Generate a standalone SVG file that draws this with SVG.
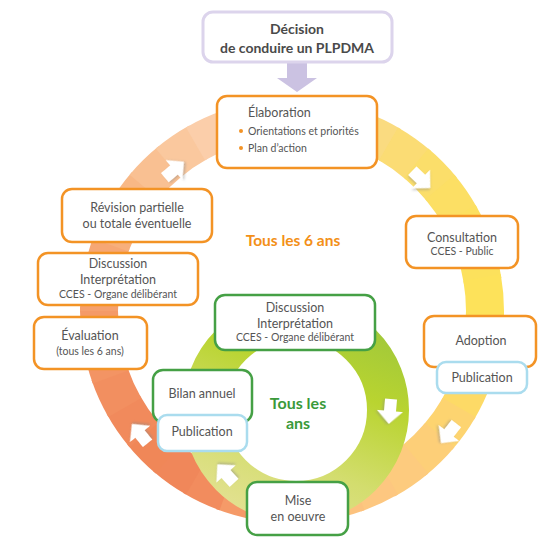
<svg xmlns="http://www.w3.org/2000/svg" width="555" height="540" viewBox="0 0 555 540">
<defs>
<style>
.seg{fill:none;stroke-width:38;stroke-dasharray:11 349}
.box{fill:#fff;stroke:#f39325;stroke-width:2.5}
.gbox{fill:#fff;stroke:#45a045;stroke-width:2.5}
.pbox{fill:#fff;stroke:#aadcee;stroke-width:2.5}
.t{font-family:Lato,"Liberation Sans",sans-serif;fill:#555;font-size:12.5px;text-anchor:middle}
.s{font-size:10.5px}
.st{font-family:Lato,"Liberation Sans",sans-serif;fill:#555;font-size:10.5px}
.h{font-family:Lato,"Liberation Sans",sans-serif;font-weight:bold;text-anchor:middle}
.arr{fill:#fff;filter:url(#sh)}
</style>
<filter id="sh" x="-50%" y="-50%" width="200%" height="200%">
<feDropShadow dx="1" dy="1.5" stdDeviation="1.2" flood-color="#888" flood-opacity="0.45"/>
</filter>
<linearGradient id="gg" gradientUnits="userSpaceOnUse" x1="345" y1="300" x2="255" y2="520">
<stop offset="0" stop-color="#9cc63c"/>
<stop offset="0.35" stop-color="#b9d430"/>
<stop offset="0.7" stop-color="#d3dd6e"/>
<stop offset="1" stop-color="#e3e192"/>
</linearGradient>
<polygon id="ar" points="-12,-6 0,-6 0,-13 13,0 0,13 0,6 -12,6"/>
</defs>

<g id="big-ring" transform="rotate(-90 292 311)">
<circle class="seg" cx="292" cy="311" r="193" pathLength="360" style="stroke:#f9d6a0;stroke-dashoffset:0"/>
<circle class="seg" cx="292" cy="311" r="193" pathLength="360" style="stroke:#fad890;stroke-dashoffset:-10"/>
<circle class="seg" cx="292" cy="311" r="193" pathLength="360" style="stroke:#fadb80;stroke-dashoffset:-20"/>
<circle class="seg" cx="292" cy="311" r="193" pathLength="360" style="stroke:#fbdc74;stroke-dashoffset:-30"/>
<circle class="seg" cx="292" cy="311" r="193" pathLength="360" style="stroke:#fbde6a;stroke-dashoffset:-40"/>
<circle class="seg" cx="292" cy="311" r="193" pathLength="360" style="stroke:#fcdf64;stroke-dashoffset:-50"/>
<circle class="seg" cx="292" cy="311" r="193" pathLength="360" style="stroke:#fce060;stroke-dashoffset:-60"/>
<circle class="seg" cx="292" cy="311" r="193" pathLength="360" style="stroke:#fce15c;stroke-dashoffset:-70"/>
<circle class="seg" cx="292" cy="311" r="193" pathLength="360" style="stroke:#fde25a;stroke-dashoffset:-80"/>
<circle class="seg" cx="292" cy="311" r="193" pathLength="360" style="stroke:#fde25a;stroke-dashoffset:-90"/>
<circle class="seg" cx="292" cy="311" r="193" pathLength="360" style="stroke:#fde05e;stroke-dashoffset:-100"/>
<circle class="seg" cx="292" cy="311" r="193" pathLength="360" style="stroke:#fdda66;stroke-dashoffset:-110"/>
<circle class="seg" cx="292" cy="311" r="193" pathLength="360" style="stroke:#fdd470;stroke-dashoffset:-120"/>
<circle class="seg" cx="292" cy="311" r="193" pathLength="360" style="stroke:#fdcf78;stroke-dashoffset:-130"/>
<circle class="seg" cx="292" cy="311" r="193" pathLength="360" style="stroke:#fdcb7e;stroke-dashoffset:-140"/>
<circle class="seg" cx="292" cy="311" r="193" pathLength="360" style="stroke:#fdc780;stroke-dashoffset:-150"/>
<circle class="seg" cx="292" cy="311" r="193" pathLength="360" style="stroke:#fcc27e;stroke-dashoffset:-160"/>
<circle class="seg" cx="292" cy="311" r="193" pathLength="360" style="stroke:#fbbb7a;stroke-dashoffset:-170"/>
<circle class="seg" cx="292" cy="311" r="193" pathLength="360" style="stroke:#f8ab72;stroke-dashoffset:-180"/>
<circle class="seg" cx="292" cy="311" r="193" pathLength="360" style="stroke:#f59a68;stroke-dashoffset:-190"/>
<circle class="seg" cx="292" cy="311" r="193" pathLength="360" style="stroke:#f28c5e;stroke-dashoffset:-200"/>
<circle class="seg" cx="292" cy="311" r="193" pathLength="360" style="stroke:#f0875a;stroke-dashoffset:-210"/>
<circle class="seg" cx="292" cy="311" r="193" pathLength="360" style="stroke:#f08758;stroke-dashoffset:-220"/>
<circle class="seg" cx="292" cy="311" r="193" pathLength="360" style="stroke:#f18a5c;stroke-dashoffset:-230"/>
<circle class="seg" cx="292" cy="311" r="193" pathLength="360" style="stroke:#f28f60;stroke-dashoffset:-240"/>
<circle class="seg" cx="292" cy="311" r="193" pathLength="360" style="stroke:#f39464;stroke-dashoffset:-250"/>
<circle class="seg" cx="292" cy="311" r="193" pathLength="360" style="stroke:#f49a68;stroke-dashoffset:-260"/>
<circle class="seg" cx="292" cy="311" r="193" pathLength="360" style="stroke:#f5a06e;stroke-dashoffset:-270"/>
<circle class="seg" cx="292" cy="311" r="193" pathLength="360" style="stroke:#f6a774;stroke-dashoffset:-280"/>
<circle class="seg" cx="292" cy="311" r="193" pathLength="360" style="stroke:#f7af7c;stroke-dashoffset:-290"/>
<circle class="seg" cx="292" cy="311" r="193" pathLength="360" style="stroke:#f8b886;stroke-dashoffset:-300"/>
<circle class="seg" cx="292" cy="311" r="193" pathLength="360" style="stroke:#f9c092;stroke-dashoffset:-310"/>
<circle class="seg" cx="292" cy="311" r="193" pathLength="360" style="stroke:#fac89e;stroke-dashoffset:-320"/>
<circle class="seg" cx="292" cy="311" r="193" pathLength="360" style="stroke:#fbceaa;stroke-dashoffset:-330"/>
<circle class="seg" cx="292" cy="311" r="193" pathLength="360" style="stroke:#fbd2ae;stroke-dashoffset:-340"/>
<circle class="seg" cx="292" cy="311" r="193" pathLength="360" style="stroke:#fad4a8;stroke-dashoffset:-350"/>
</g>

<g id="green-ring">
<circle cx="296" cy="410" r="92" fill="none" stroke="url(#gg)" stroke-width="42"/>
</g>

<g id="connectors">
<path d="M287,62 H307 V78 H317 L297,92 L277,78 H287 Z" fill="#cbc2e2"/>
<use href="#ar" class="arr" transform="translate(174,170) rotate(-40)"/>
<use href="#ar" class="arr" transform="translate(421,179) rotate(44)"/>
<use href="#ar" class="arr" transform="translate(449,433) rotate(128)"/>
<use href="#ar" class="arr" transform="translate(140,434) rotate(-129)"/>
<use href="#ar" class="arr" transform="translate(390,411) rotate(95)"/>
<use href="#ar" class="arr" transform="translate(226,474) rotate(-132)"/>
</g>

<g id="decision">
<rect x="203" y="12" width="189" height="50" rx="10" fill="#fff" stroke="#dcd4ec" stroke-width="3"/>
<text class="h" x="297" y="34" font-size="14" fill="#4a4a4a">Décision</text>
<text class="h" x="297" y="53" font-size="14" fill="#4a4a4a">de conduire un PLPDMA</text>
</g>

<g id="elaboration">
<rect class="box" x="217" y="96" width="160" height="72" rx="10"/>
<text class="st" x="248" y="117" style="font-size:12.5px">Élaboration</text>
<circle cx="241" cy="131" r="2" fill="#f39325"/>
<text class="st" x="248" y="135">Orientations et priorités</text>
<circle cx="241" cy="148" r="2" fill="#f39325"/>
<text class="st" x="248" y="152">Plan d’action</text>
</g>

<g id="consultation">
<rect class="box" x="406" y="216" width="112" height="52" rx="10"/>
<text class="t" x="462" y="242">Consultation</text>
<text class="t s" x="462" y="255">CCES - Public</text>
</g>

<g id="adoption">
<rect class="box" x="424" y="316" width="112" height="51" rx="10"/>
<text class="t" x="481" y="345">Adoption</text>
</g>
<g id="publication-adoption">
<rect class="pbox" x="437" y="362" width="90" height="31" rx="9"/>
<text class="t" x="482" y="382">Publication</text>
</g>

<g id="revision">
<rect class="box" x="62" y="189" width="150" height="53" rx="10"/>
<text class="t" x="137" y="212">Révision partielle</text>
<text class="t" x="137" y="228">ou totale éventuelle</text>
</g>

<g id="discussion-6ans">
<rect class="box" x="38" y="253" width="160" height="52" rx="10"/>
<text class="t" x="118" y="268">Discussion</text>
<text class="t" x="118" y="284">Interprétation</text>
<text class="t s" x="118" y="298">CCES - Organe délibérant</text>
</g>

<g id="evaluation">
<rect class="box" x="34" y="317" width="113" height="52" rx="10"/>
<text class="t" x="90" y="340">Évaluation</text>
<text class="t s" x="90" y="355">(tous les 6 ans)</text>
</g>

<g id="discussion-annuel">
<rect class="gbox" x="215" y="295" width="160" height="55" rx="10"/>
<text class="t" x="295" y="312">Discussion</text>
<text class="t" x="295" y="328">Interprétation</text>
<text class="t s" x="295" y="341">CCES - Organe délibérant</text>
</g>

<g id="bilan">
<rect class="gbox" x="153" y="370" width="99" height="52" rx="10"/>
<text class="t" x="202" y="398">Bilan annuel</text>
</g>
<g id="publication-bilan">
<rect class="pbox" x="158" y="415" width="89" height="36" rx="9"/>
<text class="t" x="202" y="436">Publication</text>
</g>

<g id="mise-en-oeuvre">
<rect class="gbox" x="247" y="482" width="101" height="53" rx="10"/>
<text class="t" x="298" y="505">Mise</text>
<text class="t" x="298" y="521">en oeuvre</text>
</g>

<g id="labels">
<text class="h" x="293" y="246" font-size="15.5" fill="#f39018">Tous les 6 ans</text>
<text class="h" x="298" y="409" font-size="16" fill="#3a9a3a">Tous les</text>
<text class="h" x="298" y="429" font-size="16" fill="#3a9a3a">ans</text>
</g>
</svg>
